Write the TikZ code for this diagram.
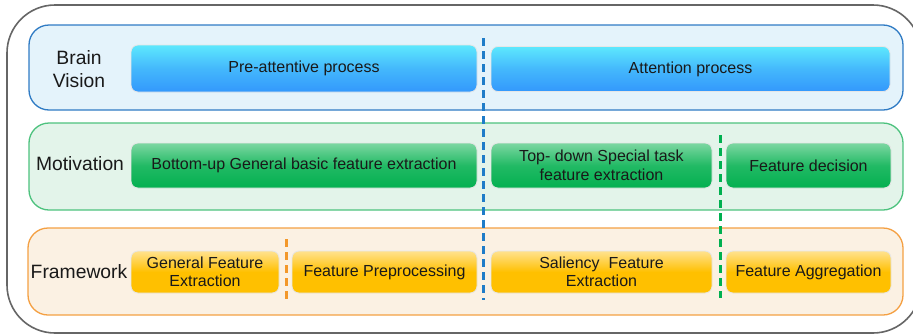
\documentclass[tikz,border=0pt]{standalone}
\usepackage{fontspec}
\setmainfont{Liberation Sans}
\usetikzlibrary{shadings}
\definecolor{frameGray}{HTML}{666666}
\definecolor{bluePanel}{HTML}{E4F3FB}
\definecolor{blueEdge}{HTML}{2F7BC4}
\definecolor{blueTop}{HTML}{5DE8FD}
\definecolor{blueBot}{HTML}{3398FC}
\definecolor{blueDash}{HTML}{1F7CC8}
\definecolor{greenPanel}{HTML}{E3F4EA}
\definecolor{greenEdge}{HTML}{4DC27E}
\definecolor{greenTop}{HTML}{7DD7A2}
\definecolor{greenBot}{HTML}{03B050}
\definecolor{greenDash}{HTML}{00B050}
\definecolor{orangePanel}{HTML}{FBF1E3}
\definecolor{orangeEdge}{HTML}{F4A043}
\definecolor{orangeTop}{HTML}{FFE28F}
\definecolor{orangeBot}{HTML}{FFC000}
\definecolor{orangeDash}{HTML}{F3982A}
\definecolor{boxEdge}{HTML}{E6E6E6}
\begin{document}
\begin{tikzpicture}[x=1pt,y=-1pt,
  panel/.style={rounded corners=20pt, line width=1.3pt},
  box/.style={rounded corners=7pt, draw=boxEdge, line width=0.8pt, align=center,
    font=\fontsize{16}{18.5}\selectfont, text=black!90, inner sep=0pt},
  bluebox/.style={box, top color=blueTop, bottom color=blueBot, middle color=blueBot!60!blueTop},
  greenbox/.style={box, top color=greenTop, bottom color=greenBot, middle color=greenBot!75!greenTop},
  orangebox/.style={box, top color=orangeTop, bottom color=orangeBot, middle color=orangeBot},
  rowlabel/.style={font=\fontsize{19.3}{23}\selectfont, align=center, text=black!90},
  sep/.style={line width=3pt, dash pattern=on 8pt off 5pt}
]
\useasboundingbox (0,0) rectangle (913,335);
\clip (0,0) rectangle (913,335);

% outer frame
\draw[frameGray, line width=1.6pt, rounded corners=48pt] (7,5) rectangle (921,333);

% row panels
\draw[panel, draw=blueEdge, fill=bluePanel] (29,25) rectangle (903,110);
\draw[panel, draw=greenEdge, fill=greenPanel] (29,123) rectangle (903,210);
\draw[panel, draw=orangeEdge, fill=orangePanel] (28,228) rectangle (903,315);

% row labels
\node[rowlabel] (lblBrain) at (79,69) {Brain\\Vision};
\node[rowlabel] (lblMot) at (80,164) {Motivation};
\node[rowlabel] (lblFrame) at (79,272) {Framework};

% separators
\coordinate (bTop) at (483,38);
\coordinate (bBot) at (483,300);
\coordinate (gTop) at (720,135);
\coordinate (gBot) at (720,298);
\coordinate (oTop) at (286,239);
\coordinate (oBot) at (286,299);

% brain vision row
\node[bluebox, minimum width=346pt, minimum height=47pt] (pre) at (304,68.5) {Pre-attentive process};
\node[bluebox, minimum width=399pt, minimum height=45pt] (att) at (690.5,69) {Attention process};

% motivation row
\node[greenbox, minimum width=346pt, minimum height=45pt] (bu) at (304,165.5) {Bottom-up General basic feature extraction};
\node[greenbox, minimum width=221pt, minimum height=45pt] (td) at (601.5,165.5) {Top- down Special task\\feature extraction};
\node[greenbox, minimum width=165pt, minimum height=45pt] (fd) at (808.5,165.5) {Feature decision};

% framework row
\node[orangebox, minimum width=148pt, minimum height=42pt] (gfe) at (205,272) {General Feature\\Extraction};
\node[orangebox, minimum width=185pt, minimum height=42pt] (fp) at (384.5,272) {Feature Preprocessing};
\node[orangebox, minimum width=221pt, minimum height=42pt] (sfe) at (601.5,272) {Saliency~~Feature\\Extraction};
\node[orangebox, minimum width=165pt, minimum height=42pt] (fa) at (808.5,272) {Feature Aggregation};

\draw[sep, blueDash] (bTop) -- (bBot);
\draw[sep, greenDash] (gTop) -- (gBot);
\draw[sep, orangeDash] (oTop) -- (oBot);
\end{tikzpicture}
\end{document}
